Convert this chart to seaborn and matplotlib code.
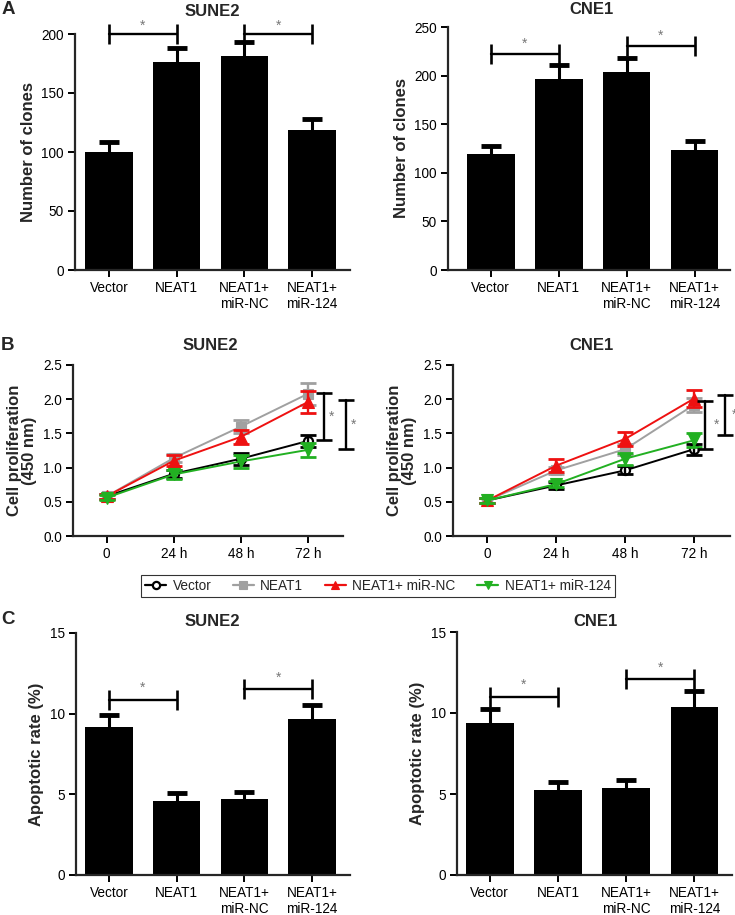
import numpy as np
import pandas as pd
import matplotlib
matplotlib.use("Agg")
import matplotlib.pyplot as plt
import seaborn as sns
from matplotlib.lines import Line2D

sns.set_style("ticks")
plt.rcParams['font.family'] = ['Liberation Sans', 'DejaVu Sans']

# ---------------- data ----------------
groups = ["Vector", "NEAT1", "NEAT1+\nmiR-NC", "NEAT1+\nmiR-124"]

clones_sune2 = [100, 176, 181, 119]
clones_sune2_err = [8.5, 12, 12, 9]
clones_cne1 = [119.5, 196.5, 204, 123.5]
clones_cne1_err = [8.5, 14.5, 14.5, 9.5]

times = ["0", "24 h", "48 h", "72 h"]
series = ["Vector", "NEAT1", "NEAT1+ miR-NC", "NEAT1+ miR-124"]
prolif_sune2 = {
    "Vector":         [0.58, 0.91, 1.13, 1.39],
    "NEAT1":          [0.58, 1.14, 1.60, 2.08],
    "NEAT1+ miR-NC":  [0.58, 1.10, 1.45, 1.96],
    "NEAT1+ miR-124": [0.56, 0.90, 1.09, 1.26],
}
prolif_sune2_err = {
    "Vector":         [0.04, 0.06, 0.09, 0.09],
    "NEAT1":          [0.04, 0.06, 0.09, 0.16],
    "NEAT1+ miR-NC":  [0.04, 0.08, 0.10, 0.16],
    "NEAT1+ miR-124": [0.04, 0.06, 0.09, 0.10],
}
prolif_cne1 = {
    "Vector":         [0.52, 0.74, 0.96, 1.27],
    "NEAT1":          [0.52, 0.96, 1.27, 1.92],
    "NEAT1+ miR-NC":  [0.52, 1.03, 1.42, 2.01],
    "NEAT1+ miR-124": [0.52, 0.76, 1.13, 1.40],
}
prolif_cne1_err = {
    "Vector":         [0.04, 0.05, 0.06, 0.08],
    "NEAT1":          [0.04, 0.05, 0.08, 0.10],
    "NEAT1+ miR-NC":  [0.04, 0.09, 0.10, 0.12],
    "NEAT1+ miR-124": [0.04, 0.05, 0.09, 0.10],
}

apop_sune2 = [9.15, 4.6, 4.7, 9.7]
apop_sune2_err = [0.75, 0.48, 0.45, 0.85]
apop_cne1 = [9.38, 5.22, 5.34, 10.35]
apop_cne1_err = [0.87, 0.5, 0.52, 0.98]

colors = {"Vector": "black", "NEAT1": "#a0a0a0",
          "NEAT1+ miR-NC": "#ee1111", "NEAT1+ miR-124": "#22b022"}
markers = {"Vector": "o", "NEAT1": "s", "NEAT1+ miR-NC": "^", "NEAT1+ miR-124": "v"}
msizes = {"Vector": 6.5, "NEAT1": 6.5, "NEAT1+ miR-NC": 8, "NEAT1+ miR-124": 8}

# ---------------- figure ----------------
W, H = 735, 915
fig = plt.figure(figsize=(W / 100, H / 100), dpi=100)

TICK_FS = 9.8
LAB_FS = 12
TITLE_FS = 12


def add_ax(left, right, top, bottom):
    return fig.add_axes([left / W, 1 - bottom / H, (right - left) / W, (bottom - top) / H])


def style(ax):
    sns.despine(ax=ax)
    for s in ("left", "bottom"):
        ax.spines[s].set_linewidth(1.6)
    ax.tick_params(width=1.4, length=5, labelsize=TICK_FS, colors="black", pad=3)


def bracket_h(ax, x1, x2, y, ystar):
    ax.plot([x1, x2], [y, y], color="black", lw=1.7, marker="|", ms=14, mew=1.9,
            clip_on=False, zorder=5)
    ax.text((x1 + x2) / 2, ystar, "*", color="#777777", ha="center", va="center",
            fontsize=10, clip_on=False)


def bracket_v(ax, x, y1, y2, xstar):
    ax.plot([x, x], [y1, y2], color="black", lw=1.7, marker="_", ms=11, mew=1.9,
            clip_on=False, zorder=5)
    ax.text(xstar, (y1 + y2) / 2, "*", color="#777777", ha="center", va="center",
            fontsize=10, clip_on=False)


def bar_panel(ax, vals, errs, ylim, yticks, ylabel, xlim):
    df = pd.DataFrame({"group": groups, "value": vals})
    sns.barplot(data=df, x="group", y="value", color="black", width=0.7,
                errorbar=None, ax=ax, saturation=1, linewidth=0)
    xs = np.arange(len(groups))
    tops = np.asarray(vals) + np.asarray(errs)
    ax.vlines(xs, vals, tops, color="black", lw=2.2, zorder=4)
    ax.plot(xs, tops, ls="none", marker="_", ms=15, mew=3.5, color="black", zorder=4)
    ax.set_ylim(*ylim)
    ax.set_yticks(yticks)
    ax.set_xlim(*xlim)
    ax.set_xlabel("")
    ax.set_ylabel(ylabel, fontsize=LAB_FS, fontweight="bold")
    style(ax)


def line_panel(ax, data, errs):
    x = np.arange(len(times))
    for s in series:
        sns.lineplot(x=x, y=data[s], ax=ax, color=colors[s], lw=1.4,
                     marker=markers[s], markersize=msizes[s],
                     markerfacecolor="white" if s == "Vector" else colors[s],
                     markeredgecolor=colors[s], markeredgewidth=1.6 if s == "Vector" else 0.8,
                     zorder=3)
        ax.errorbar(x, data[s], yerr=errs[s], fmt="none", ecolor=colors[s],
                    elinewidth=1.7, capsize=6, capthick=2, zorder=3)
    ax.set_xticks(x)
    ax.set_xticklabels(times)
    ax.set_ylim(0, 2.5)
    ax.set_yticks([0, 0.5, 1.0, 1.5, 2.0, 2.5])
    ax.set_yticklabels(["0.0", "0.5", "1.0", "1.5", "2.0", "2.5"])
    ax.set_xlim(-0.5, 3.52)
    ax.set_xlabel("")
    ax.set_ylabel("Cell proliferation\n(450 nm)", fontsize=LAB_FS, fontweight="bold",
                  linespacing=1.05)
    style(ax)


# Panel A
axA1 = add_ax(75, 350, 34, 270)
bar_panel(axA1, clones_sune2, clones_sune2_err, (0, 200), [0, 50, 100, 150, 200],
          "Number of clones", (-0.5, 3.56))
bracket_h(axA1, 0, 1, 200, 207)
bracket_h(axA1, 2, 3, 200, 207)

axA2 = add_ax(448, 730, 27, 270)
bar_panel(axA2, clones_cne1, clones_cne1_err, (0, 250), [0, 50, 100, 150, 200, 250],
          "Number of clones", (-0.63, 3.52))
bracket_h(axA2, 0, 1, 222, 233)
bracket_h(axA2, 2, 3, 230.5, 241)

# Panel B
axB1 = add_ax(73, 343, 365, 536)
line_panel(axB1, prolif_sune2, prolif_sune2_err)
bracket_v(axB1, 3.24, 1.40, 2.09, 3.35)
bracket_v(axB1, 3.57, 1.27, 1.99, 3.67)

axB2 = add_ax(453, 730, 365, 536)
line_panel(axB2, prolif_cne1, prolif_cne1_err)
bracket_v(axB2, 3.16, 1.27, 1.97, 3.32)
bracket_v(axB2, 3.45, 1.48, 2.06, 3.58)

# Panel C
axC1 = add_ax(76, 350, 633, 875)
bar_panel(axC1, apop_sune2, apop_sune2_err, (0, 15), [0, 5, 10, 15],
          "Apoptotic rate (%)", (-0.49, 3.56))
bracket_h(axC1, 0, 1, 10.87, 11.6)
bracket_h(axC1, 2, 3, 11.5, 12.2)

axC2 = add_ax(457, 732, 632, 875)
bar_panel(axC2, apop_cne1, apop_cne1_err, (0, 15), [0, 5, 10, 15],
          "Apoptotic rate (%)", (-0.48, 3.55))
bracket_h(axC2, 0, 1, 10.97, 11.75)
bracket_h(axC2, 2, 3, 12.1, 12.8)

# Titles and panel letters
def ftext(x, y, s, **kw):
    fig.text(x / W, 1 - y / H, s, ha="center", va="center", **kw)

for (x, y, s) in [(212, 11, "SUNE2"), (592, 10, "CNE1"),
                  (210, 345, "SUNE2"), (592, 345, "CNE1"),
                  (212, 622, "SUNE2"), (595, 622, "CNE1")]:
    ftext(x, y, s, fontsize=TITLE_FS, fontweight="bold")
for (y, s) in [(9, "A"), (345, "B"), (620, "C")]:
    ftext(8, y, s, fontsize=13.5, fontweight="bold")

# Legend
handles = []
for s in series:
    handles.append(Line2D([0], [0], color=colors[s], lw=1.6, marker=markers[s],
                          markersize=msizes[s] * 0.8,
                          markerfacecolor="white" if s == "Vector" else colors[s],
                          markeredgecolor=colors[s],
                          markeredgewidth=1.6 if s == "Vector" else 0.8))
leg = fig.legend(handles, series, loc="center", bbox_to_anchor=(378 / W, 1 - 586 / H),
                 ncol=4, frameon=True, fancybox=False, edgecolor="black", fontsize=9.8,
                 handlelength=1.5, columnspacing=1.6, handletextpad=0.5,
                 borderpad=0.3)
leg.get_frame().set_linewidth(0.8)

fig.savefig("out.png", dpi=100)
